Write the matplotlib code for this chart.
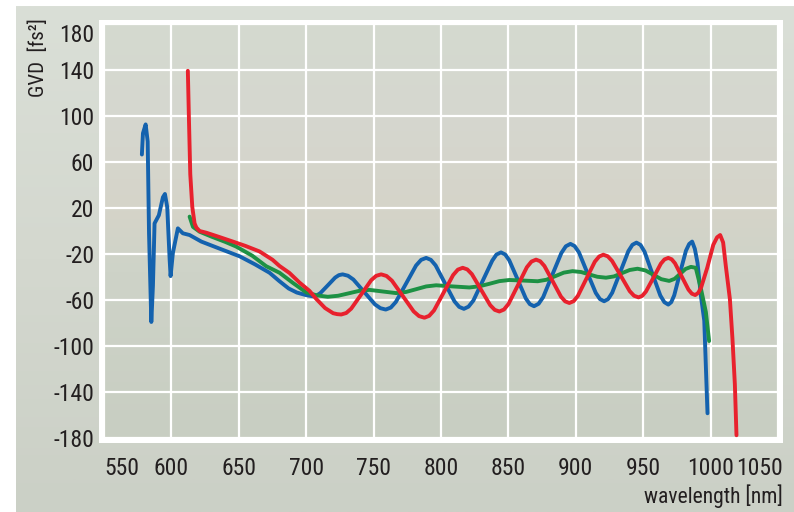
import matplotlib
matplotlib.use('Agg')
import matplotlib.pyplot as plt
import matplotlib.font_manager as fm
import matplotlib.transforms as mtransforms
import numpy as np
from matplotlib.patches import Rectangle

# ---------------- data ----------------
x_ticks = [550, 600, 650, 700, 750, 800, 850, 900, 950, 1000, 1050]
y_ticks = [-180, -140, -100, -60, -20, 20, 60, 100, 140, 180]

blue_x = [578.1, 578.9, 580.9, 582.4, 583.4, 585.1, 586.3, 587.5, 590.7, 593.7,
          595.2, 596.9, 598.7, 599.4, 601.1, 604.8, 608.5, 613.5, 622.2, 635,
          650.6, 662, 672.8, 680, 687, 693, 700, 705, 707.75, 710.5, 716,
          721.5, 724.25, 727, 731, 735, 743, 751, 755, 759, 762.75, 766.5, 774, 781.5, 785.25, 789,
          792.5, 796, 803, 810, 813.5, 817, 820.4, 824, 831, 838, 841.1, 844.5, 847.6, 850.6, 856.8,
          862.9, 865.9, 869, 872.4, 875.8, 882.5, 889.3, 892.6, 896, 899.1, 902.3, 908.5, 914.8, 917.9, 921,
          924, 927, 933, 939, 942, 945, 948, 951, 956.8, 962.7, 965.7, 968.6, 970.8, 973, 977.3,
          981.7, 984.1, 986.3, 988.3, 990.3, 992.8, 995.3, 997.7]
blue_y = [66.5, 85.0, 92.7, 77.9, -2.0, -79.1, -47.7, 6.6, 13.7, 29.3,
          32.2, 20.8, -24.9, -39.2, -19.1, 2.3, -2.0, -3.5, -9.2, -15.0,
          -22.0, -29.0, -36.3, -43.5, -50.0, -53.5, -55.8, -56.8, -56.1, -54.0, -47.3,
          -40.5, -38.4, -37.7, -38.9, -42.2, -53.0, -63.8, -67.1, -68.3, -66.6, -61.7, -45.9, -30.0, -25.1, -23.4,
          -25.1, -29.9, -45.6, -61.2, -66.0, -67.7, -65.8, -60.5, -43.2, -25.8, -20.5, -18.6, -20.4, -25.4, -42.0,
          -58.6, -63.6, -65.4, -63.3, -57.5, -38.3, -19.1, -13.3, -11.2, -13.1, -18.5, -36.2, -53.8, -59.2, -61.1,
          -59.2, -53.7, -35.6, -17.5, -12.0, -10.1, -12.1, -18.0, -37.1, -56.1, -61.9, -64.0, -61.9, -56.0, -36.6,
          -17.2, -11.3, -9.2, -15.5, -27.7, -56.3, -78.0, -158.5]

red_x = [612.2, 613.0, 614.0, 615.5, 617.2, 618.5, 620.9, 625.9, 635, 645.6,
         655, 665.4, 675, 680.2, 687.6, 695, 702.4, 707.4, 714, 720, 723,
         726, 729.7, 733.4, 740.8, 748.2, 751.9, 755.6, 759.6, 763.6, 771.7, 779.7, 783.7, 787.7, 791.2, 794.8,
         801.9, 809, 812.5, 816.1, 819.5, 822.9, 829.7, 836.5, 839.9, 843.3, 846.7, 850.1, 856.9, 863.7, 867.1,
         870.5, 873.6, 876.7, 882.9, 889, 892.1, 895.2, 898.4, 901.5, 907.8, 914.1, 917.3, 920.4, 923.7, 926.9,
         933.5, 940, 943.2, 946.5, 949.3, 952, 957.6, 963.1, 965.8, 968.6, 971.1, 973.6, 978.6, 983.6, 986.1,
         988.6, 990.9, 993, 997.5, 1002, 1004.8, 1007.1, 1009.3, 1011.3, 1014.3, 1016.2, 1018.0,
         1019.2]
red_y = [139.3, 97.9, 49.4, 20.8, 6.6, 3.0, 0.0, -1.5, -5.0, -9.2,
         -13.0, -17.8, -25.0, -30.4, -36.5, -44.8, -52.0, -59.0, -67.0, -71.5, -72.3,
         -72.6, -71.3, -67.5, -55.2, -42.8, -39.0, -37.7, -39.1, -43.2, -56.6, -69.9, -74.0, -75.4, -73.8, -69.1,
         -53.7, -38.3, -33.6, -32.0, -33.4, -37.5, -51.0, -64.5, -68.6, -70.0, -68.3, -63.4, -47.5, -31.5, -26.6,
         -24.9, -26.3, -30.4, -43.8, -57.1, -61.2, -62.6, -61.0, -56.5, -41.6, -26.7, -22.2, -20.6, -22.0, -26.0,
         -39.2, -52.3, -56.3, -57.7, -56.4, -52.7, -40.6, -28.4, -24.7, -23.4, -24.6, -28.1, -39.6, -51.0, -54.5,
         -55.7, -53.7, -49.0, -32.0, -12.0, -5.5, -3.5, -10.0, -30.6, -59.1, -93.4, -133.4,
         -177.6]

green_x = [613.5, 616, 620.9, 630, 640, 648, 660, 670.3, 680.2, 690,
           700, 708, 716, 723.7, 731.5, 739.2, 746.9, 756.8, 766.7, 774.1,
           781.6, 789, 796.4, 808.7, 821, 828.4, 835.9, 843.3, 850.7, 861.2,
           871.7, 878.2, 884.7, 891.1, 897.6, 904, 910, 916, 922.4, 928.3,
           934.1, 940, 945.8, 951.7, 957.6, 963.4, 969.3, 973.3, 977.4, 981.4,
           985.4, 989, 992.8, 996.5, 998.9]
green_y = [12.5, 3.6, -0.6, -5.0, -9.5, -13.5, -21.5, -30.6, -36.3, -45.0,
           -53.4, -56.0, -57.2, -56.3, -54.2, -52.1, -51.2, -52.6, -54.0, -53.0,
           -50.6, -48.2, -47.2, -48.2, -49.1, -48.1, -45.9, -43.6, -42.6, -43.1,
           -43.7, -42.4, -39.3, -36.2, -34.9, -35.7, -37.8, -39.8, -40.6, -39.5,
           -36.7, -33.9, -32.8, -34.3, -38.1, -41.9, -43.4, -41.6, -37.3, -33.0,
           -31.2, -32.0, -50.0, -70.5, -95.7]

x_label = 'wavelength [nm]'
y_label = 'GVD  [fs²]'

# ---------------- font: prefer a condensed face ----------------
def pick_font():
    prefs = ['Liberation Sans Narrow', 'Roboto Condensed', 'Open Sans Condensed',
             'Noto Sans Condensed', 'DejaVu Sans Condensed']
    fonts = [f for f in fm.fontManager.ttflist
             if f.style == 'normal' and f.weight in (400, 'normal', 'regular', 'book')]
    for p in prefs:
        for f in fonts:
            if f.name == p:
                return fm.FontProperties(fname=f.fname), 17
    for f in fonts:
        if f.stretch in ('condensed', 'semi-condensed', 'extra-condensed') or \
           'Condensed' in f.name or 'Narrow' in f.name:
            return fm.FontProperties(fname=f.fname), 16
    return fm.FontProperties(family='Liberation Sans'), 15

base_fp, tick_size = pick_font()

# ---------------- layout ----------------
W, H = 794, 512
fig = plt.figure(figsize=(W / 100, H / 100), dpi=100)
fig.patch.set_facecolor('white')

def fx(px):
    return px / W

def fy(py):
    return 1 - py / H

def vgrad(stops, n=256):
    t = np.linspace(0, 1, n)
    pos = [s[0] for s in stops]
    cols = np.array([s[1] for s in stops], dtype=float) / 255.0
    arr = np.stack([np.interp(t, pos, cols[:, k]) for k in range(3)], axis=-1)
    return arr[:, None, :]

# outer panel
bg = fig.add_axes([fx(16), 0, 1 - fx(16), 1 - 6 / H], zorder=0)
bg.axis('off')
bg.imshow(vgrad([(0, (218, 223, 215)), (0.5, (212, 216, 207)), (1, (203, 208, 198))]),
          aspect='auto', extent=[0, 1, 0, 1], interpolation='bilinear')
bg.set_xlim(0, 1)
bg.set_ylim(0, 1)

# white frame around plot
fig.patches.append(Rectangle((fx(99), fy(443)), fx(783) - fx(99), fy(20) - fy(443),
                             transform=fig.transFigure, facecolor='white',
                             edgecolor='none', zorder=1))

ax = fig.add_axes([fx(104), fy(438), fx(778) - fx(104), fy(24) - fy(438)], zorder=2)
ax.set_xlim(550, 1050)
ax.set_ylim(-180, 180)
ax.imshow(vgrad([(0, (212, 218, 208)), (0.22, (214, 215, 207)), (0.45, (213, 212, 201)),
                 (0.6, (206, 211, 200)), (1, (200, 206, 194))]),
          aspect='auto', extent=[550, 1050, -180, 180], interpolation='bilinear', zorder=0)
ax.set_axisbelow(True)
ax.grid(True, color='white', linewidth=1.6)
for s in ax.spines.values():
    s.set_visible(False)

ax.plot(blue_x, blue_y, color='#1462ae', lw=2.8, solid_capstyle='round', zorder=3)
ax.plot(green_x, green_y, color='#1d9144', lw=2.8, solid_capstyle='round', zorder=4)
ax.plot(red_x, red_y, color='#e8212d', lw=2.8, solid_capstyle='round', zorder=5)

txt_col = '#231f20'
ax.set_xticks(x_ticks)
ax.set_xticklabels([str(v) for v in x_ticks], fontproperties=base_fp, fontsize=tick_size,
                   color=txt_col)
ax.set_yticks(y_ticks)
ax.set_yticklabels([str(v) for v in y_ticks], fontproperties=base_fp, fontsize=tick_size,
                   color=txt_col)
ax.tick_params(axis='both', length=0)
ax.tick_params(axis='x', pad=14)
ax.tick_params(axis='y', pad=7)
xl = ax.get_xticklabels()
xl[0].set_ha('left')
xl[-1].set_ha('right')
shift = mtransforms.ScaledTranslation(5 / 100, 0, fig.dpi_scale_trans)
xl[-1].set_transform(xl[-1].get_transform() + shift)
yl = ax.get_yticklabels()
yl[-1].set_va('top')

fig.text(fx(38), fy(18), y_label, rotation=90, ha='center', va='top',
         fontproperties=base_fp, fontsize=15, color=txt_col)
fig.text(fx(783), fy(508), x_label, ha='right', va='bottom',
         fontproperties=base_fp, fontsize=15.5, color=txt_col)

fig.savefig('out.png', dpi=100)
